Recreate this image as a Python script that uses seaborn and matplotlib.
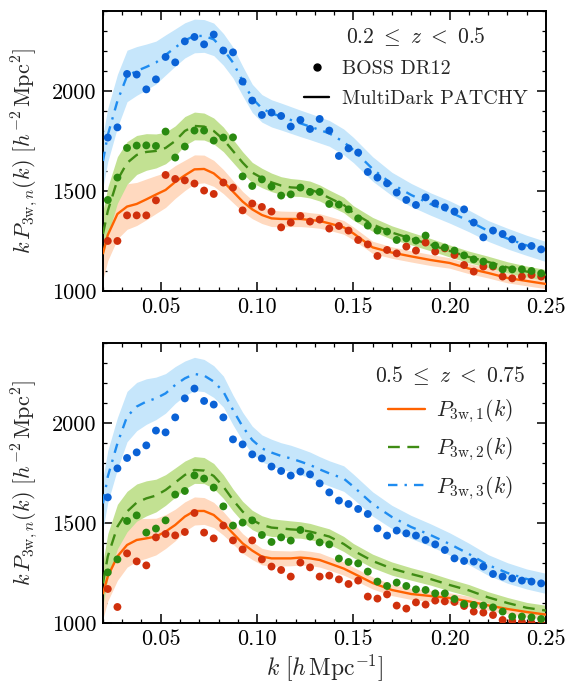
import numpy as np
import pandas as pd
import matplotlib
matplotlib.use("Agg")
import matplotlib.pyplot as plt
from matplotlib.lines import Line2D
from matplotlib.ticker import MultipleLocator, FormatStrFormatter
import seaborn as sns

# ---------------- data ----------------
k_data = [0.0225, 0.0275, 0.0325, 0.0375, 0.0425, 0.0475, 0.0525, 0.0575, 0.0625, 0.0675,
          0.0725, 0.0775, 0.0825, 0.0875, 0.0925, 0.0975, 0.1025, 0.1075, 0.1125, 0.1175,
          0.1225, 0.1275, 0.1325, 0.1375, 0.1425, 0.1475, 0.1525, 0.1575, 0.1625, 0.1675,
          0.1725, 0.1775, 0.1825, 0.1875, 0.1925, 0.1975, 0.2025, 0.2075, 0.2125, 0.2175,
          0.2225, 0.2275, 0.2325, 0.2375, 0.2425, 0.2475]

# BOSS DR12, 0.2 <= z < 0.5
top_n1 = [1250, 1250, 1378, 1378, 1378, 1453, 1580, 1560, 1553, 1537, 1502, 1485, 1542, 1517,
          1403, 1437, 1420, 1397, 1318, 1342, 1375, 1347, 1357, 1312, 1325, 1302, 1255, 1233,
          1175, 1205, 1188, 1222, 1202, 1242, 1197, 1213, 1180, 1130, 1097, 1122, 1122, 1072,
          1063, 1072, 1080, 1072]
top_n2 = [1455, 1567, 1715, 1727, 1728, 1725, 1797, 1667, 1722, 1802, 1802, 1752, 1767, 1768,
          1573, 1525, 1558, 1522, 1477, 1483, 1517, 1495, 1495, 1435, 1432, 1408, 1363, 1327,
          1302, 1297, 1255, 1263, 1252, 1277, 1227, 1217, 1202, 1178, 1158, 1147, 1127, 1108,
          1108, 1108, 1100, 1088]
top_n3 = [1767, 1818, 2085, 2082, 2008, 2058, 2170, 2143, 2248, 2270, 2233, 2282, 2202, 2193,
          2047, 1952, 1880, 1892, 1875, 1822, 1855, 1810, 1860, 1802, 1675, 1713, 1692, 1595,
          1567, 1538, 1492, 1455, 1430, 1468, 1438, 1418, 1397, 1408, 1342, 1268, 1302, 1285,
          1258, 1222, 1225, 1208]

# BOSS DR12, 0.5 <= z < 0.75
bot_n1 = [1170, 1080, 1348, 1308, 1288, 1428, 1445, 1438, 1455, 1550, 1452, 1423, 1487, 1413,
          1368, 1413, 1318, 1282, 1265, 1232, 1302, 1278, 1232, 1237, 1218, 1195, 1212, 1132,
          1122, 1143, 1087, 1072, 1103, 1092, 1112, 1108, 1105, 1085, 1057, 1052, 1040, 1015,
          1010, 1005, 1000, 995]
bot_n2 = [1253, 1318, 1510, 1538, 1452, 1472, 1513, 1642, 1660, 1738, 1722, 1677, 1583, 1487,
          1502, 1513, 1440, 1405, 1428, 1412, 1465, 1432, 1403, 1393, 1322, 1305, 1298, 1257,
          1207, 1185, 1202, 1185, 1168, 1165, 1148, 1148, 1120, 1095, 1090, 1087, 1078, 1057,
          1032, 1032, 1028, 1020]
bot_n3 = [1628, 1773, 1825, 1853, 1888, 1962, 1953, 2028, 2123, 2172, 2110, 2092, 2028, 1918,
          1893, 1843, 1823, 1782, 1760, 1737, 1757, 1743, 1698, 1653, 1612, 1595, 1570, 1545,
          1473, 1437, 1462, 1448, 1437, 1415, 1393, 1365, 1323, 1310, 1307, 1282, 1245, 1232,
          1223, 1212, 1207, 1198]

# MultiDark PATCHY mean
k_model = [0.020, 0.0225, 0.0275, 0.0325, 0.0375, 0.0425, 0.0475, 0.0525, 0.0575, 0.0625,
           0.0675, 0.0725, 0.0775, 0.0825, 0.0875, 0.0925, 0.0975, 0.1025, 0.1075, 0.1125,
           0.1175, 0.1225, 0.1275, 0.1325, 0.1375, 0.145, 0.150, 0.160, 0.170, 0.180,
           0.190, 0.200, 0.210, 0.220, 0.230, 0.240, 0.250]

top_m1 = [1188, 1280, 1385, 1422, 1435, 1458, 1482, 1505, 1545, 1578, 1608, 1610, 1588, 1547,
          1497, 1447, 1408, 1380, 1363, 1360, 1360, 1360, 1355, 1350, 1338, 1318, 1288, 1218,
          1192, 1173, 1155, 1140, 1112, 1090, 1065, 1050, 1035]
top_m2 = [1285, 1400, 1555, 1640, 1680, 1695, 1700, 1715, 1750, 1800, 1825, 1822, 1800, 1758,
          1700, 1642, 1592, 1565, 1543, 1527, 1518, 1515, 1507, 1490, 1465, 1430, 1390, 1333,
          1292, 1262, 1232, 1200, 1170, 1145, 1118, 1097, 1080]
top_m3 = [1650, 1780, 1950, 2075, 2100, 2120, 2142, 2180, 2217, 2253, 2275, 2275, 2258, 2208,
          2142, 2050, 1963, 1913, 1888, 1872, 1855, 1838, 1822, 1805, 1788, 1745, 1705, 1610,
          1535, 1480, 1435, 1395, 1350, 1300, 1262, 1228, 1197]

bot_m1 = [1148, 1233, 1333, 1390, 1415, 1423, 1432, 1457, 1490, 1532, 1560, 1560, 1540, 1498,
          1448, 1398, 1362, 1332, 1323, 1323, 1323, 1327, 1323, 1315, 1298, 1272, 1248, 1200,
          1165, 1145, 1135, 1125, 1108, 1088, 1070, 1055, 1042]
bot_m2 = [1198, 1333, 1482, 1557, 1602, 1623, 1637, 1665, 1702, 1740, 1765, 1762, 1735, 1682,
          1615, 1557, 1515, 1490, 1477, 1473, 1468, 1465, 1457, 1445, 1432, 1395, 1362, 1310,
          1272, 1245, 1220, 1190, 1163, 1128, 1100, 1076, 1062]
bot_m3 = [1598, 1732, 1898, 2032, 2082, 2107, 2123, 2148, 2190, 2223, 2245, 2237, 2207, 2157,
          2065, 1982, 1915, 1873, 1852, 1835, 1823, 1807, 1790, 1768, 1748, 1722, 1682, 1595,
          1530, 1480, 1440, 1395, 1345, 1290, 1250, 1220, 1198]

# relative half-width of the mock scatter band
band_n1 = [0.110, 0.100, 0.090, 0.080, 0.075, 0.070, 0.064, 0.058, 0.053, 0.048, 0.045, 0.043,
           0.041, 0.039, 0.037, 0.035, 0.033, 0.031, 0.030, 0.029, 0.028, 0.028, 0.027, 0.027,
           0.026, 0.026, 0.025, 0.025, 0.024, 0.024, 0.024, 0.023, 0.023, 0.023, 0.023, 0.023,
           0.023]
band_n2 = [0.090, 0.085, 0.075, 0.065, 0.058, 0.054, 0.050, 0.046, 0.043, 0.040, 0.038, 0.037,
           0.036, 0.035, 0.034, 0.033, 0.032, 0.031, 0.030, 0.029, 0.029, 0.028, 0.028, 0.027,
           0.027, 0.027, 0.026, 0.026, 0.026, 0.025, 0.025, 0.025, 0.025, 0.025, 0.025, 0.025,
           0.025]
band_n3 = [0.080, 0.075, 0.068, 0.062, 0.058, 0.054, 0.050, 0.046, 0.042, 0.039, 0.037, 0.036,
           0.036, 0.036, 0.036, 0.036, 0.036, 0.036, 0.036, 0.036, 0.036, 0.036, 0.036, 0.036,
           0.036, 0.037, 0.037, 0.038, 0.038, 0.039, 0.039, 0.040, 0.040, 0.040, 0.041, 0.041,
           0.042]

panel_titles = [r"$0.2\ \leq\ z\ <\ 0.5$", r"$0.5\ \leq\ z\ <\ 0.75$"]
source_labels = ["BOSS DR12", "MultiDark PATCHY"]
series_labels = [r"$P_{3\mathrm{w},1}(k)$", r"$P_{3\mathrm{w},2}(k)$", r"$P_{3\mathrm{w},3}(k)$"]
x_ticks = [0.05, 0.10, 0.15, 0.20, 0.25]
y_ticks = [1000, 1500, 2000]

# ---------------- style ----------------
sns.set_style("ticks")
plt.rcParams.update({
    "font.family": ["cmr10", "DejaVu Serif"],
    "mathtext.fontset": "cm",
    "axes.formatter.use_mathtext": True,
    "font.size": 15,
    "axes.linewidth": 1.4,
    "axes.edgecolor": "black",
})

dot_cols = ["#d0300c", "#2a8a10", "#0a62d6"]
line_cols = ["#ff6200", "#3f8c14", "#1f8cf0"]
band_cols = ["#ffd9bf", "#c2e192", "#c6e6fb"]
line_styles = ["-", (0, (5, 3.2)), (0, (4, 3, 1, 3))]

fig = plt.figure(figsize=(5.68, 6.84), dpi=100)
ax_top = fig.add_axes([0.1813, 0.5746, 0.7799, 0.4094])
ax_bot = fig.add_axes([0.1813, 0.0892, 0.7799, 0.4094])

panels = [
    (ax_top, [top_n1, top_n2, top_n3], [top_m1, top_m2, top_m3]),
    (ax_bot, [bot_n1, bot_n2, bot_n3], [bot_m1, bot_m2, bot_m3]),
]
bands = [band_n1, band_n2, band_n3]

for ax, dots, models in panels:
    for j in range(3):
        m = np.asarray(models[j], float)
        w = m * np.asarray(bands[j], float)
        ax.fill_between(k_model, m - w, m + w, color=band_cols[j], lw=0, zorder=1)
    for j in range(3):
        dfm = pd.DataFrame({"k": k_model, "P": models[j]})
        sns.lineplot(data=dfm, x="k", y="P", ax=ax, color=line_cols[j], lw=1.7,
                     linestyle=line_styles[j], zorder=3, legend=False)
    for j in range(3):
        dfd = pd.DataFrame({"k": k_data, "P": dots[j]})
        sns.scatterplot(data=dfd, x="k", y="P", ax=ax, color=dot_cols[j], s=32,
                        edgecolor="none", zorder=4, legend=False)

    ax.set_xlim(0.02, 0.25)
    ax.set_ylim(1000, 2400)
    ax.set_xticks(x_ticks)
    ax.set_yticks(y_ticks)
    ax.xaxis.set_minor_locator(MultipleLocator(0.01))
    ax.yaxis.set_minor_locator(MultipleLocator(100))
    ax.xaxis.set_major_formatter(FormatStrFormatter("%.2f"))
    ax.yaxis.set_major_formatter(FormatStrFormatter("%d"))
    ax.tick_params(which="both", direction="in", top=True, right=True, labelsize=16,
                   colors="black")
    ax.tick_params(which="major", length=6.5, width=1.1, pad=5)
    ax.tick_params(which="minor", length=3.2, width=0.9)
    ax.set_ylabel(r"$k\,P_{3\mathrm{w},n}(k)\ [h^{-2}\,\mathrm{Mpc}^2]$", fontsize=16, labelpad=8)
    ax.set_xlabel("")
    for s in ax.spines.values():
        s.set_linewidth(1.4)

ax_bot.set_xlabel(r"$k\ [h\,\mathrm{Mpc}^{-1}]$", fontsize=17, labelpad=2)

# top legend
h_top = [Line2D([], [], color="black", marker="o", ms=5, ls="none"),
         Line2D([], [], color="black", lw=1.7)]
leg1 = ax_top.legend(h_top, source_labels, title=panel_titles[0],
                     loc="upper right", bbox_to_anchor=(0.959, 0.95), frameon=False,
                     fontsize=14.4, title_fontsize=15.5, handlelength=1.25, handletextpad=0.65,
                     labelspacing=0.6, borderaxespad=0.0, borderpad=0.0)

# bottom legend
h_bot = [Line2D([], [], color=line_cols[j], lw=1.7, ls=line_styles[j]) for j in range(3)]
leg2 = ax_bot.legend(h_bot, series_labels, title=panel_titles[1],
                     loc="upper right", bbox_to_anchor=(0.953, 0.925), frameon=False,
                     fontsize=15.7, title_fontsize=15.5, handlelength=1.7, handletextpad=0.5,
                     labelspacing=0.5, borderaxespad=0.0, borderpad=0.0)

fig.savefig("out.png", dpi=100)
